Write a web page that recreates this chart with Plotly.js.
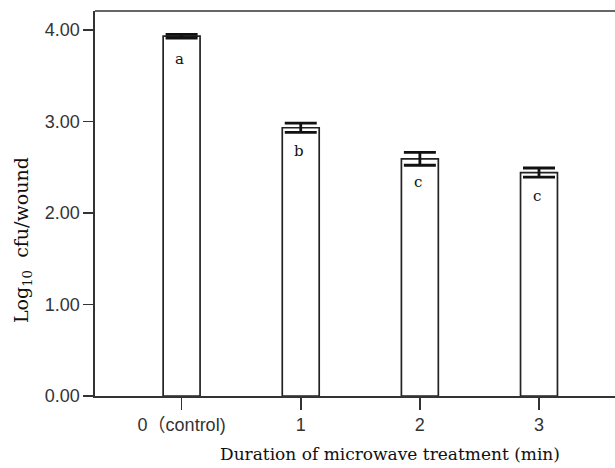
<!DOCTYPE html>
<html>
<head>
<meta charset="utf-8">
<script src="https://cdn.plot.ly/plotly-3.0.1.min.js"></script>
<style>html,body{margin:0;padding:0;background:#fff;}#chart{width:615px;height:468px;}</style>
</head>
<body>
<div id="chart"></div>
<script>
// Data
var categories = ["0\uFF08control)", "1", "2", "3"];
var meanLog = [3.93, 2.93, 2.59, 2.44];
var errLog = [0.02, 0.05, 0.07, 0.05];
var groupLetters = ["a", "b", "c", "c"];
var yTickVals = [0, 1, 2, 3, 4];
var yTickText = ["0.00", "1.00", "2.00", "3.00", "4.00"];

var xIdx = categories.map(function (c, i) { return i; });

var trace = {
  type: "bar",
  x: xIdx,
  y: meanLog,
  width: 0.31,
  marker: { color: "#ffffff", line: { color: "#222222", width: 1.7 } },
  error_y: { type: "data", array: errLog, visible: true, color: "#111111", thickness: 2.8, width: 16 },
  hoverinfo: "skip"
};

var annotations = groupLetters.map(function (t, i) {
  return {
    x: xIdx[i], y: meanLog[i], xref: "x", yref: "y",
    text: t, showarrow: false, yshift: -23, xshift: -2,
    font: { family: "DejaVu Serif, Liberation Serif, serif", size: 15, color: "#111" }
  };
});

annotations.push({
  xref: "paper", yref: "paper", x: 0, y: 0.405, xshift: -73,
  text: "Log<sub>10</sub>  cfu/wound", textangle: -90, showarrow: false,
  xanchor: "center", yanchor: "middle",
  font: { family: "DejaVu Serif, Liberation Serif, serif", size: 19, color: "#111" }
});
annotations.push({
  xref: "paper", yref: "paper", x: 0.567, y: 0, yshift: -58,
  text: "Duration of microwave treatment (min)", showarrow: false,
  xanchor: "center", yanchor: "middle",
  font: { family: "DejaVu Serif, Liberation Serif, serif", size: 17, color: "#111" }
});

var tickFont = { family: "Liberation Sans, Arial, Noto Sans CJK SC, sans-serif", size: 18, color: "#333" };

var layout = {
  width: 615, height: 468,
  margin: { l: 95, r: 0, t: 11, b: 72, pad: 0 },
  paper_bgcolor: "#ffffff", plot_bgcolor: "#ffffff",
  showlegend: false,
  font: tickFont,
  xaxis: {
    range: [-0.727, 3.638],
    tickmode: "array", tickvals: xIdx, ticktext: categories,
    showgrid: false, zeroline: false,
    showline: true, linecolor: "#333", linewidth: 1.6,
    ticks: "outside", ticklen: 12, tickwidth: 1.6, tickcolor: "#333",
    tickfont: tickFont,
    fixedrange: true
  },
  yaxis: {
    range: [0, 4.205],
    tickmode: "array", tickvals: yTickVals, ticktext: yTickText,
    showgrid: false, zeroline: false,
    showline: true, linecolor: "#333", linewidth: 1.6,
    ticks: "outside", ticklen: 10, tickwidth: 1.6, tickcolor: "#333",
    tickfont: tickFont,
    fixedrange: true
  },
  shapes: [{
    type: "line", xref: "paper", yref: "paper", x0: 0, x1: 1, y0: 1, y1: 1,
    line: { color: "#333", width: 1.6 }
  }],
  annotations: annotations
};

Plotly.newPlot("chart", [trace], layout, { staticPlot: true, displayModeBar: false });
</script>
</body>
</html>
